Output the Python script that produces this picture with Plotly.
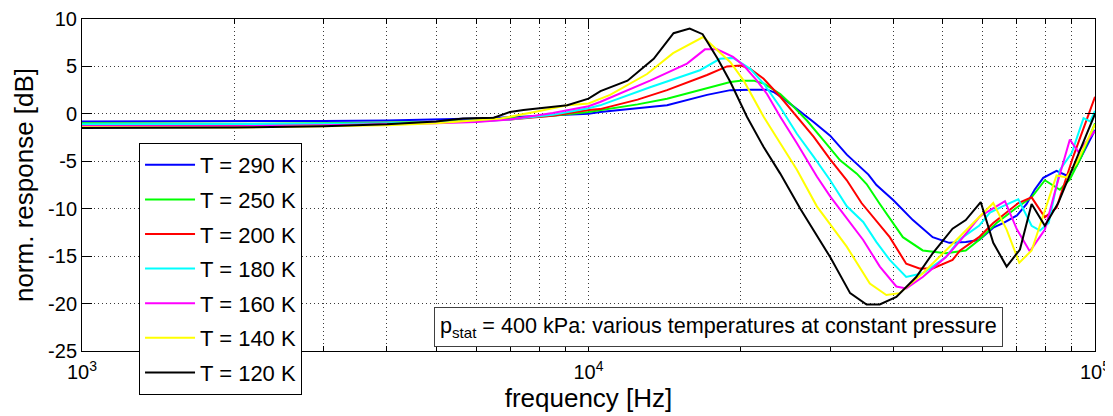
import plotly.graph_objects as go

# ---------------- data ----------------
labels = ["T = 290 K", "T = 250 K", "T = 200 K", "T = 180 K", "T = 160 K", "T = 140 K", "T = 120 K"]
colors = ["#0000FF", "#00FF00", "#FF0000", "#00FFFF", "#FF00FF", "#FFFF00", "#000000"]

f_290 = [1000, 1500, 2000, 3000, 4000, 5000, 6000, 7000, 8500, 10000, 10540, 12000, 14290, 17140, 19060,
         21000, 22510, 23200, 24280, 25790, 27820, 30000, 32360, 35700, 37030, 40000, 43700, 47810, 51550,
         55570, 59020, 62970, 66000, 70150, 73280, 76000, 79030, 83950, 87850, 91930, 100000]
db_290 = [-0.8, -0.8, -0.8, -0.75, -0.7, -0.6, -0.5, -0.35, -0.15, 0.0, 0.2, 0.5, 0.9, 2.0, 2.5,
          2.55, 2.55, 2.3, 1.6, 0.5, -0.85, -2.3, -4.3, -6.4, -7.5, -9.1, -11.2, -13.0, -13.6,
          -13.5, -13.3, -12.0, -11.5, -10.7, -9.5, -8.0, -6.75, -6.0, -6.5, -5.5, -1.7]

f_250 = [1000, 1500, 2000, 3000, 4000, 5000, 6000, 7000, 8500, 10000, 10540, 12500, 14290, 16600, 19060,
         19940, 21180, 22170, 23910, 25020, 26990, 29110, 31390, 33860, 35400, 37600, 41750, 45700, 50770,
         55570, 59020, 63930, 70000, 74960, 79620, 85240, 89200, 94000, 100000]
db_250 = [-1.0, -1.05, -1.05, -1.0, -0.95, -0.85, -0.7, -0.5, -0.2, 0.2, 0.4, 1.0, 1.6, 2.5, 3.35,
          3.5, 3.5, 3.2, 2.1, 1.1, -0.7, -2.8, -4.9, -6.3, -7.4, -9.5, -13.0, -14.4, -14.7,
          -14.4, -13.3, -11.5, -9.9, -8.8, -7.0, -8.0, -6.9, -4.5, -1.0]

f_200 = [1000, 1500, 2000, 3000, 4000, 5000, 6000, 7000, 8500, 10000, 10540, 12500, 14290, 17140, 18770,
         20000, 20860, 22170, 23910, 25790, 27820, 30000, 32360, 34600, 39330, 42390, 45010, 47810, 52330,
         54150, 59020, 62970, 70580, 74960, 79620, 83950, 90580, 100000]
db_200 = [-1.2, -1.2, -1.2, -1.1, -1.0, -0.9, -0.75, -0.6, -0.2, 0.4, 0.5, 1.5, 2.5, 4.1, 5.0,
          5.1, 4.75, 3.7, 1.8, -0.3, -2.4, -4.8, -7.0, -9.4, -13.0, -15.8, -16.3, -16.3, -15.4,
          -14.4, -13.0, -11.5, -9.4, -8.8, -10.9, -9.9, -4.5, 1.8]

f_180 = [1000, 1500, 2000, 3000, 4000, 5000, 6000, 7000, 8500, 10000, 10540, 13230, 16600, 18180, 19290,
         20860, 22170, 23910, 25790, 27820, 30000, 32360, 34860, 37000, 39330, 42390, 45700, 50770, 54150,
         59020, 62020, 66000, 70580, 74960, 77870, 81000, 85240, 90000, 94910, 97810, 100000]
db_180 = [-1.1, -1.1, -1.1, -1.05, -1.0, -0.9, -0.8, -0.6, -0.1, 0.6, 0.9, 2.8, 4.6, 5.8, 5.9,
          4.75, 3.2, 0.7, -2.1, -4.5, -7.0, -9.75, -11.4, -13.5, -15.4, -17.2, -16.8, -15.1, -13.2,
          -11.8, -10.4, -9.7, -9.0, -11.8, -12.3, -11.5, -5.9, -4.1, -0.45, -0.8, 0.3]

f_160 = [1000, 1500, 2000, 3000, 4000, 5000, 6000, 7000, 8500, 10000, 10540, 13230, 15650, 16980, 17940,
         19290, 20250, 21510, 22510, 23910, 25790, 28240, 30000, 34860, 37600, 40530, 42390, 45700, 50770,
         54150, 59270, 66410, 70150, 74370, 79620, 83950, 89200, 92640, 100000]
db_160 = [-1.3, -1.3, -1.3, -1.2, -1.1, -1.0, -0.85, -0.6, 0.1, 0.8, 1.25, 3.5, 5.3, 6.8, 6.8,
          6.0, 5.1, 3.5, 2.1, -0.3, -3.1, -6.6, -8.7, -13.3, -16.1, -18.2, -18.4, -17.2, -15.1,
          -13.4, -10.8, -9.2, -12.2, -14.5, -12.2, -7.6, -2.7, -4.0, -1.8]

f_140 = [1000, 1500, 2000, 3000, 4000, 5000, 5650, 6700, 8000, 9080, 10000, 11030, 13050, 14690, 16840,
         19060, 20250, 22170, 23910, 25790, 28240, 32350, 35930, 38730, 41140, 45700, 50770, 54150, 59020,
         62970, 66920, 70880, 74960, 79030, 83950, 87850, 91930, 100000]
db_140 = [-1.4, -1.4, -1.45, -1.3, -1.2, -1.0, -0.8, -0.5, 0.3, 0.9, 1.1, 2.0, 4.2, 6.4, 8.1,
          5.45, 3.5, -0.3, -3.1, -5.9, -9.75, -14.0, -17.9, -19.1, -18.9, -16.8, -14.4, -12.9, -10.9,
          -9.4, -12.2, -15.7, -14.4, -10.8, -6.5, -6.7, -5.2, -1.1]

f_120 = [1000, 1500, 2000, 3000, 4000, 5000, 5650, 6500, 7000, 7440, 9080, 10000, 10560, 11940, 13450,
         14720, 15840, 16800, 17990, 19060, 20550, 22170, 23910, 26190, 27830, 30000, 32850, 35400, 37580,
         40530, 44360, 47810, 52330, 55570, 59480, 62970, 66920, 71090, 74960, 79620, 84600, 90580, 100000]
db_120 = [-1.5, -1.5, -1.45, -1.3, -1.1, -0.8, -0.5, -0.4, 0.2, 0.4, 0.9, 1.6, 2.4, 3.5, 5.8,
          8.5, 9.0, 8.4, 5.8, 3.35, -0.3, -3.5, -6.3, -10.0, -12.3, -15.1, -18.9, -20.1, -20.1,
          -19.3, -17.2, -14.7, -12.1, -11.2, -9.3, -13.6, -16.1, -14.3, -9.5, -11.8, -9.4, -5.5, 0.0]

freqs = [f_290, f_250, f_200, f_180, f_160, f_140, f_120]
responses = [db_290, db_250, db_200, db_180, db_160, db_140, db_120]

x_major = [1000, 10000, 100000]
x_major_text = ["10<sup>3</sup>", "10<sup>4</sup>", "10<sup>5</sup>"]
x_minor = [m * d for d in (1000, 10000) for m in range(2, 10)]
y_ticks = [-25, -20, -15, -10, -5, 0, 5, 10]
y_ticktext = ["-25", "-20", "-15", "-10", "-5", "0", "5", "10"]

annotation_text = "p<sub>stat</sub> = 400 kPa: various temperatures at constant pressure"

# ---------------- figure ----------------
# the page body adds an 8 px margin, so the figure is 8 px smaller and shifted accordingly
FONT = "Liberation Sans, Arial, Helvetica, sans-serif"
GRID = "#3a3a3a"
DOT = "1px,3px"

fig = go.Figure()
for name, col, fx, fy in zip(labels, colors, freqs, responses):
    fig.add_trace(go.Scatter(x=fx, y=fy, mode="lines", name=name, legendgroup=name,
                             line=dict(color=col, width=2)))

fig.update_layout(
    width=1105, height=408,
    margin=dict(l=74, r=18, t=11, b=65, autoexpand=False),
    paper_bgcolor="white", plot_bgcolor="white",
    font=dict(family=FONT, size=20, color="black"),
    showlegend=True,
    legend=dict(x=0.0563, y=0.6265, xanchor="left", yanchor="top",
                bgcolor="white", bordercolor="black", borderwidth=1,
                font=dict(size=22, family=FONT, color="black"),
                tracegroupgap=3, itemwidth=50),
)

fig.update_xaxes(
    type="log", range=[3, 5],
    tickmode="array", tickvals=x_major, ticktext=x_major_text,
    ticks="inside", ticklen=10, tickwidth=1, tickcolor="black",
    showline=True, linecolor="black", linewidth=1, mirror="allticks",
    showgrid=True, gridcolor=GRID, gridwidth=1, griddash=DOT,
    zeroline=False,
    tickfont=dict(size=20, family=FONT),
    ticklabelstandoff=3,
    minor=dict(tickvals=x_minor, ticks="inside", ticklen=5, tickcolor="black",
               showgrid=True, gridcolor=GRID, gridwidth=1, griddash=DOT),
    title=dict(text="frequency [Hz]", font=dict(size=26, family=FONT), standoff=3),
)
fig.update_yaxes(
    range=[-25, 10],
    tickmode="array", tickvals=y_ticks, ticktext=y_ticktext,
    ticks="inside", ticklen=10, tickwidth=1, tickcolor="black",
    showline=True, linecolor="black", linewidth=1, mirror="allticks",
    showgrid=True, gridcolor=GRID, gridwidth=1, griddash=DOT,
    zeroline=False,
    tickfont=dict(size=20, family=FONT),
    title=dict(text="norm. response [dB]", font=dict(size=26, family=FONT), standoff=6),
)

fig.add_annotation(
    xref="paper", yref="paper", x=0.6285, y=0.0724, xanchor="center", yanchor="middle",
    text=annotation_text, showarrow=False,
    font=dict(size=21.6, family=FONT, color="black"),
    bgcolor="white", bordercolor="#404040", borderwidth=1, borderpad=5,
)

fig.write_html("out.html")
